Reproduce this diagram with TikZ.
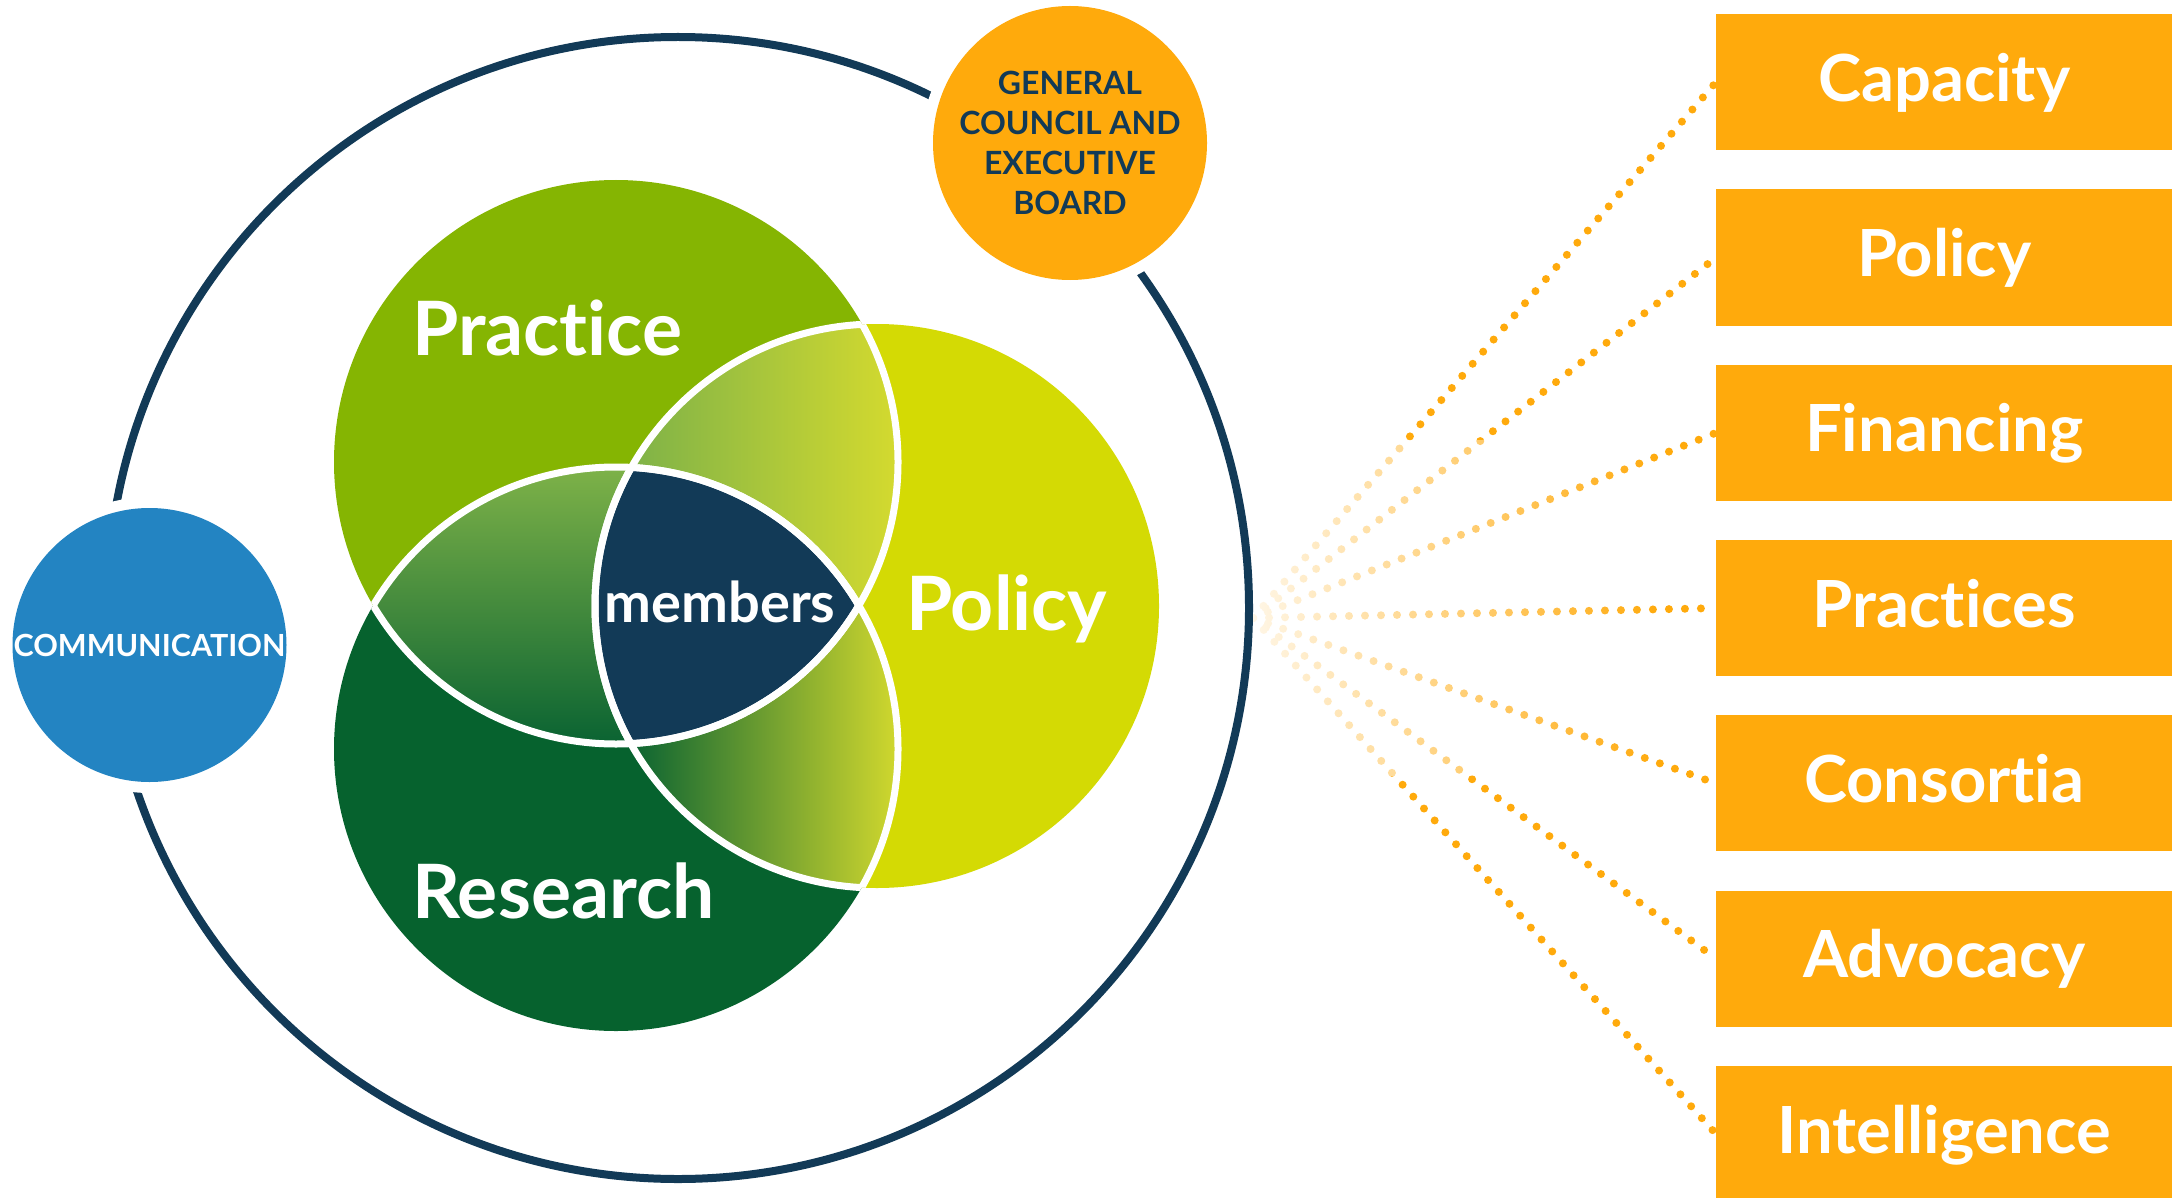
\documentclass[tikz,border=0pt]{standalone}
\usepackage{fontspec}
\setmainfont{Lato}[Ligatures={NoCommon}]
\usetikzlibrary{fadings}
\definecolor{navy}{RGB}{18,58,87}
\definecolor{orng}{RGB}{255,170,12}
\definecolor{commblue}{RGB}{35,132,194}
\definecolor{pracgreen}{RGB}{133,181,2}
\definecolor{polyellow}{RGB}{212,218,4}
\definecolor{resgreen}{RGB}{6,98,46}
\definecolor{gA}{RGB}{126,178,72}
\definecolor{gY}{RGB}{214,219,46}
\definecolor{gD}{RGB}{10,99,50}
\tikzfading[name=fadeoutright, left color=transparent!0, right color=transparent!100]
\pgfdeclarelayer{dotlayer}
\pgfdeclarelayer{veillayer}
\pgfsetlayers{dotlayer,veillayer,main}
\begin{document}
\begin{tikzpicture}[x=1pt,y=-1pt,
  box/.style={fill=orng, minimum width=456pt, minimum height=136pt, inner sep=0pt,
    text=white, font=\fontsize{65}{70}\selectfont\bfseries, text height=47pt, text depth=9pt},
  vlabel/.style={text=white, font=\fontsize{75}{80}\selectfont\bfseries, inner sep=0pt, anchor=base west},
  fandots/.style={draw=orng, line width=8pt, line cap=round, dash pattern=on 0pt off 16pt},
  vline/.style={draw=white, line width=7pt},
  smallcirc/.style={circle, minimum size=274pt, inner sep=0pt},
]
\useasboundingbox (0,0) rectangle (2175,1198);
\coordinate (fan) at (1253,618);
% boxes
\foreach \nm/\lbl [count=\i from 0] in {cap/Capacity, pol/Policy, fin/Financing, pra/Practices, con/Consortia, adv/Advocacy, itl/Intelligence} {
  \node[box, anchor=north west] (\nm) at (1716,{14+175.3*\i}) {\lbl};
}
% dotted fan
\begin{pgfonlayer}{dotlayer}
\foreach \nm in {cap,pol,fin,pra,con,adv,itl} {
  \draw[fandots] (fan) -- (\nm.west);
}
\end{pgfonlayer}
\begin{pgfonlayer}{veillayer}
\fill[white, fill opacity=0.93, path fading=fadeoutright] (1240,440) rectangle (1660,776);
\end{pgfonlayer}
% outer ring
\draw[navy, line width=8pt] (678,608) circle (571pt);
% halos and small circles
\fill[white] (1070,143) circle (148pt);
\fill[white] (149.5,645) circle (148pt);
\node[smallcirc, fill=orng, text=navy, align=center, font=\fontsize{32}{40}\selectfont\bfseries] (gc) at (1070,143) {GENERAL\\COUNCIL AND\\EXECUTIVE\\BOARD};
\node[smallcirc, fill=commblue] (comm) at (149.5,645) {};
\node[text=white, inner sep=0pt, font=\fontsize{30.5}{36}\selectfont\bfseries] (commtext) at (comm.center) {COMMUNICATION};
% venn
\coordinate (A) at (616,462);
\coordinate (B) at (616,749);
\coordinate (C) at (877,606);
\fill[pracgreen] (A) circle (282pt);
\fill[resgreen] (B) circle (282pt);
\fill[polyellow] (C) circle (282pt);
\begin{scope}
  \clip (A) circle (282pt); \clip (C) circle (282pt);
  \shade[left color=gA, right color=gY] (630,300) rectangle (905,650);
\end{scope}
\begin{scope}
  \clip (A) circle (282pt); \clip (B) circle (282pt);
  \shade[top color=gA, bottom color=gD] (300,467) rectangle (900,744);
\end{scope}
\begin{scope}
  \clip (B) circle (282pt); \clip (C) circle (282pt);
  \shade[left color=gD, right color=gY] (630,560) rectangle (905,900);
\end{scope}
\begin{scope}
  \clip (A) circle (282pt); \clip (B) circle (282pt);
  \fill[navy] (C) circle (282pt);
\end{scope}
\foreach \ca/\cb/\cc in {A/B/C, B/A/C, C/A/B} {
  \begin{scope}\clip (\cb) circle (282pt); \draw[vline] (\ca) circle (282pt); \end{scope}
  \begin{scope}\clip (\cc) circle (282pt); \draw[vline] (\ca) circle (282pt); \end{scope}
}
\node[vlabel] (tprac) at (412,355) {Practice};
\node[vlabel] (tpol) at (906,630) {Policy};
\node[vlabel] (tres) at (412,918) {Research};
\node[text=white, font=\fontsize{56}{60}\selectfont\bfseries, anchor=base, inner sep=0pt] (tmem) at (720,622) {members};
\end{tikzpicture}
\end{document}
